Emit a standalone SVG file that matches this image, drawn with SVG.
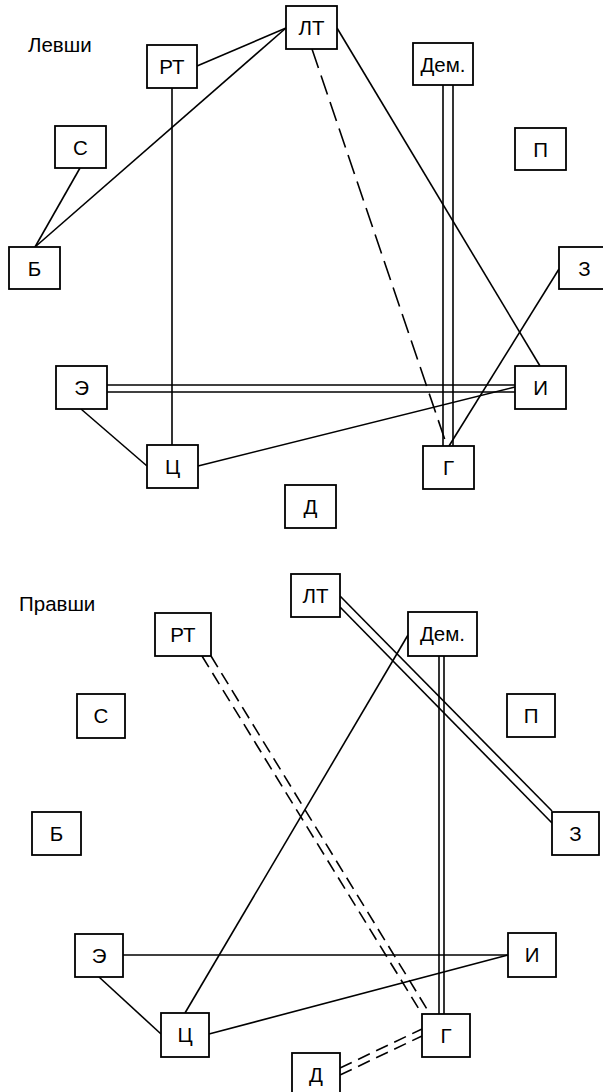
<svg xmlns="http://www.w3.org/2000/svg" width="603" height="1092" viewBox="0 0 603 1092">
<style>
rect.n{fill:#fff;stroke:#000;stroke-width:1.8}
text{font-family:"Liberation Sans",Arial,sans-serif;font-size:20.5px;fill:#000}
text.l{text-anchor:middle}
#connectors line{stroke:#000;stroke-width:1.6;fill:none}
#connectors line.d1{stroke-dasharray:20 8}
#connectors line.d2{stroke-dasharray:13 7}
</style>
<rect width="603" height="1092" fill="#fff"/>
<text x="28" y="52" font-size="21">Левши</text>
<text x="19" y="611" font-size="21">Правши</text>
<g id="connectors">
<line x1="197" y1="66" x2="286" y2="28"/>
<line x1="35" y1="247" x2="286" y2="28"/>
<line x1="80" y1="168" x2="35" y2="247"/>
<line x1="172" y1="88" x2="172" y2="445"/>
<line class="d1" x1="312" y1="49" x2="447" y2="446"/>
<line x1="337" y1="28" x2="540" y2="366"/>
<line x1="443" y1="85" x2="443" y2="446"/>
<line x1="453" y1="85" x2="453" y2="446"/>
<line x1="559" y1="269" x2="449" y2="446"/>
<line x1="107" y1="385" x2="515" y2="385"/>
<line x1="107" y1="392" x2="515" y2="392"/>
<line x1="198" y1="466" x2="515" y2="387"/>
<line x1="81" y1="409" x2="147" y2="466"/>
<line x1="340" y1="596" x2="552" y2="811"/>
<line x1="340" y1="607" x2="552" y2="823"/>
<line class="d2" x1="202" y1="656" x2="422" y2="1014"/>
<line class="d2" x1="211" y1="656" x2="430" y2="1014"/>
<line x1="439" y1="656" x2="439" y2="1014"/>
<line x1="444" y1="656" x2="444" y2="1014"/>
<line x1="408" y1="635" x2="185" y2="1013"/>
<line x1="123" y1="955" x2="508" y2="955"/>
<line x1="209" y1="1034" x2="508" y2="955"/>
<line x1="99" y1="977" x2="161" y2="1034"/>
<line class="d2" x1="340" y1="1068" x2="422" y2="1029"/>
<line class="d2" x1="340" y1="1075" x2="422" y2="1036"/>
</g>
<g id="L-LT"><rect class="n" x="286" y="6" width="51" height="43"/><text class="l" x="311.5" y="35">ЛТ</text></g>
<g id="L-RT"><rect class="n" x="147" y="45" width="50" height="43"/><text class="l" x="172" y="74">РТ</text></g>
<g id="L-S"><rect class="n" x="55" y="126" width="51" height="42"/><text class="l" x="80.5" y="155">С</text></g>
<g id="L-B"><rect class="n" x="9" y="247" width="51" height="42"/><text class="l" x="34.5" y="276">Б</text></g>
<g id="L-Dem"><rect class="n" x="413" y="43" width="60" height="42"/><text class="l" x="443" y="72">Дем.</text></g>
<g id="L-P"><rect class="n" x="515" y="128" width="51" height="42"/><text class="l" x="540.5" y="157">П</text></g>
<g id="L-Z"><rect class="n" x="559" y="247" width="51" height="42"/><text class="l" x="584.5" y="276">З</text></g>
<g id="L-E"><rect class="n" x="56" y="366" width="51" height="43"/><text class="l" x="81.5" y="395">Э</text></g>
<g id="L-C"><rect class="n" x="147" y="445" width="51" height="43"/><text class="l" x="172.5" y="474">Ц</text></g>
<g id="L-D"><rect class="n" x="285" y="485" width="51" height="43"/><text class="l" x="310.5" y="514">Д</text></g>
<g id="L-G"><rect class="n" x="423" y="446" width="51" height="43"/><text class="l" x="448.5" y="475">Г</text></g>
<g id="L-I"><rect class="n" x="515" y="366" width="51" height="43"/><text class="l" x="540.5" y="395">И</text></g>
<g id="R-LT"><rect class="n" x="291" y="574" width="49" height="43"/><text class="l" x="315.5" y="603">ЛТ</text></g>
<g id="R-RT"><rect class="n" x="155" y="613" width="56" height="43"/><text class="l" x="183" y="642">РТ</text></g>
<g id="R-S"><rect class="n" x="77" y="694" width="48" height="44"/><text class="l" x="101" y="723">С</text></g>
<g id="R-B"><rect class="n" x="32" y="812" width="49" height="43"/><text class="l" x="56.5" y="841">Б</text></g>
<g id="R-Dem"><rect class="n" x="408" y="612" width="69" height="44"/><text class="l" x="442.5" y="641">Дем.</text></g>
<g id="R-P"><rect class="n" x="507" y="694" width="48" height="43"/><text class="l" x="531" y="723">П</text></g>
<g id="R-Z"><rect class="n" x="552" y="812" width="47" height="43"/><text class="l" x="575.5" y="841">З</text></g>
<g id="R-E"><rect class="n" x="75" y="934" width="48" height="43"/><text class="l" x="99" y="963">Э</text></g>
<g id="R-C"><rect class="n" x="161" y="1013" width="48" height="44"/><text class="l" x="185" y="1042">Ц</text></g>
<g id="R-I"><rect class="n" x="508" y="933" width="48" height="44"/><text class="l" x="532" y="962">И</text></g>
<g id="R-G"><rect class="n" x="422" y="1014" width="48" height="43"/><text class="l" x="446" y="1043">Г</text></g>
<g id="R-D"><rect class="n" x="292" y="1053" width="48" height="43"/><text class="l" x="316" y="1082">Д</text></g>
</svg>
